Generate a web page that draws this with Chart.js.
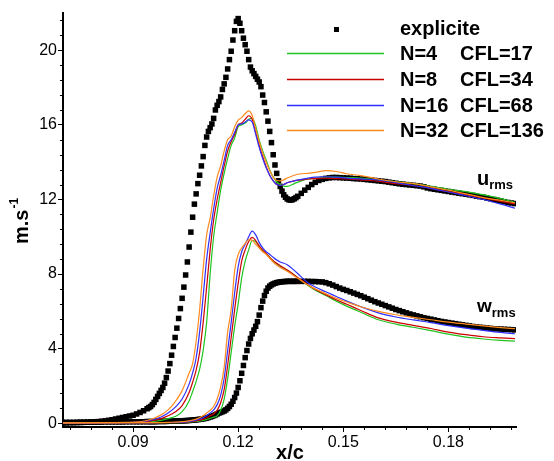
<!DOCTYPE html>
<html>
<head>
<meta charset="utf-8">
<script src="https://cdn.jsdelivr.net/npm/chart.js@4.4.1/dist/chart.umd.min.js"></script>
<style>
  html, body { margin: 0; padding: 0; background: #fff; }
  #wrap { width: 554px; height: 461px; position: relative; }
</style>
</head>
<body>
<div id="wrap"><canvas id="chart"></canvas></div>
<script>
// explicit solution, sampled on its own x grid (x/c)
const xExp = [
  0.070,0.071,0.072,0.073,0.074,0.075,0.076,0.077,0.078,0.079,
  0.080,0.081,0.082,0.083,0.084,0.085,0.086,0.087,0.088,0.089,
  0.090,0.091,0.092,0.093,0.094,
  0.0945,0.095,0.0955,0.096,0.0965,0.097,0.0975,0.098,0.0985,0.099,
  0.0995,0.1,0.1005,0.101,0.1015,0.102,0.1025,0.103,0.1035,0.104,
  0.1045,0.105,0.1055,0.106,0.1065,0.107,0.1075,0.108,0.1085,0.109,
  0.1095,0.11,0.1105,0.111,0.1115,0.112,0.1125,0.113,0.1135,0.114,
  0.1145,0.115,0.1155,0.116,0.1165,0.117,0.1175,0.118,0.1185,0.119,
  0.1195,0.12,0.1205,0.121,0.1215,0.122,0.1225,0.123,0.1235,0.124,
  0.1245,0.125,0.1255,0.126,0.1265,0.127,0.1275,0.128,0.1285,0.129,
  0.1295,0.13,0.1305,0.131,0.1315,0.132,0.1325,0.133,0.1335,0.134,
  0.1345,0.135,0.1355,0.136,0.1365,
  0.137,0.138,0.139,0.14,0.141,0.142,0.143,0.144,0.145,0.146,
  0.147,0.148,0.149,0.15,0.151,0.152,0.153,0.154,0.155,0.156,
  0.157,0.158,0.159,0.16,0.161,0.162,0.163,0.164,0.165,0.166,
  0.167,0.168,0.169,0.17,0.171,0.172,0.173,0.174,0.175,0.176,
  0.177,0.178,0.179,0.18,0.181,0.182,0.183,0.184,0.185,0.186,
  0.187,0.188,0.189,0.19,0.191,0.192,0.193,0.194,0.195,0.196,
  0.197,0.198,0.199
];
const uExp = [
  .02,.02,.03,.03,.04,.04,.05,.06,.07,.08,
  .09,.11,.13,.16,.19,.23,.27,.31,.35,.39,
  .43,.50,.58,.67,.78,
  .84,.90,1.00,1.12,1.28,1.44,1.60,1.76,1.92,2.15,
  2.45,2.80,3.20,3.65,4.12,4.60,5.10,5.62,6.15,6.70,
  7.30,7.95,8.65,9.45,10.25,11.05,11.75,12.30,12.85,13.30,
  13.80,14.30,14.90,15.35,15.65,15.85,16.05,16.35,16.80,17.05,
  17.25,17.50,17.90,18.20,18.55,19.00,19.50,19.95,20.55,21.05,
  21.55,21.70,21.45,21.05,20.65,20.30,19.95,19.50,19.10,18.90,
  18.75,18.60,18.45,18.30,18.05,17.60,17.20,16.70,16.20,15.65,
  15.05,14.40,13.85,13.40,13.00,12.70,12.45,12.25,12.12,12.03,
  11.98,11.97,11.99,12.04,12.10,
  12.17,12.33,12.50,12.65,12.80,12.92,13.02,13.08,13.13,13.16,
  13.18,13.18,13.17,13.16,13.15,13.14,13.12,13.11,13.10,13.08,
  13.06,13.04,13.02,13.00,12.98,12.96,12.93,12.90,12.87,12.84,
  12.82,12.80,12.78,12.76,12.74,12.72,12.68,12.62,12.58,12.55,
  12.52,12.49,12.46,12.43,12.40,12.37,12.34,12.31,12.28,12.25,
  12.22,12.18,12.15,12.12,12.08,12.04,12.00,11.96,11.92,11.88,
  11.84,11.81,11.78
];
const wExp = [
  .05,.05,.05,.05,.05,.06,.06,.06,.06,.06,
  .06,.06,.07,.07,.07,.07,.07,.07,.08,.08,
  .08,.08,.08,.08,.09,
  .09,.09,.09,.09,.09,.10,.10,.10,.10,.10,
  .10,.11,.11,.11,.11,.12,.12,.12,.13,.13,
  .14,.14,.15,.15,.16,.17,.18,.19,.20,.21,
  .22,.24,.26,.28,.31,.34,.37,.41,.45,.50,
  .55,.58,.62,.66,.72,.80,.90,1.02,1.18,1.38,
  1.62,1.92,2.28,2.68,3.10,3.52,3.90,4.25,4.55,4.80,
  5.00,5.20,5.45,5.80,6.20,6.55,6.85,7.08,7.25,7.35,
  7.42,7.47,7.51,7.54,7.56,7.58,7.59,7.60,7.60,7.61,
  7.61,7.61,7.61,7.61,7.61,
  7.61,7.61,7.61,7.61,7.60,7.60,7.59,7.58,7.54,7.48,
  7.41,7.33,7.25,7.18,7.12,7.05,6.98,6.91,6.84,6.76,
  6.68,6.60,6.52,6.45,6.38,6.31,6.24,6.17,6.10,6.04,
  5.98,5.92,5.86,5.81,5.76,5.71,5.66,5.62,5.58,5.54,
  5.50,5.46,5.43,5.40,5.37,5.34,5.31,5.28,5.25,5.22,
  5.19,5.17,5.15,5.13,5.11,5.09,5.07,5.06,5.05,5.04,
  5.03,5.02,5.01
];

// implicit runs, u_rms
const xU = [
  0.070,0.080,0.088,0.092,0.095,0.098,0.100,0.102,0.104,0.106,
  0.107,0.108,0.109,0.110,0.111,0.112,0.113,0.114,0.115,0.116,
  0.117,0.118,0.119,0.120,0.121,0.122,0.123,0.124,0.125,0.126,
  0.127,0.128,0.129,0.130,0.131,0.132,0.133,0.134,0.136,0.138,
  0.140,0.142,0.145,0.148,0.151,0.155,0.160,0.165,0.170,0.175,
  0.180,0.185,0.190,0.195,0.199
];
const uN4 = [
  0.02,0.02,0.03,0.05,0.08,0.16,0.25,0.36,0.62,1.20,
  1.70,2.25,2.90,3.90,5.40,8.00,10.00,11.30,12.50,13.40,
  14.20,14.90,15.30,15.90,16.00,16.10,16.30,16.35,15.95,15.20,
  14.60,14.10,13.60,13.20,12.95,12.80,12.72,12.70,12.85,13.00,
  13.10,13.15,13.20,13.20,13.18,13.15,13.05,12.95,12.85,12.70,
  12.55,12.42,12.25,12.05,11.85
];
const uN8 = [
  0.02,0.03,0.04,0.06,0.12,0.25,0.40,0.60,0.95,1.65,
  2.20,2.85,3.80,5.40,7.30,9.30,10.90,12.00,12.90,13.80,
  14.60,15.10,15.50,16.00,16.10,16.30,16.49,16.30,15.60,14.90,
  14.30,13.75,13.30,13.00,12.80,12.75,12.80,12.90,13.00,13.05,
  13.10,13.12,13.15,13.12,13.10,13.05,12.98,12.85,12.75,12.60,
  12.42,12.26,12.08,11.90,11.76
];
const uN16 = [
  0.02,0.03,0.04,0.07,0.16,0.34,0.55,0.85,1.30,2.10,
  2.70,3.50,4.90,6.80,8.80,10.20,11.50,12.60,13.30,14.10,
  14.90,15.20,15.60,16.00,16.05,16.15,16.27,16.15,15.50,14.80,
  14.20,13.70,13.30,13.00,12.80,12.75,12.80,12.90,13.00,13.08,
  13.15,13.20,13.22,13.20,13.15,13.10,13.05,12.90,12.75,12.60,
  12.40,12.20,12.00,11.75,11.53
];
const uN32 = [
  0.02,0.03,0.05,0.08,0.20,0.45,0.72,1.15,1.75,2.70,
  3.20,4.40,6.10,8.30,10.10,11.00,12.20,13.20,13.80,14.60,
  15.20,15.40,15.90,16.25,16.40,16.60,16.75,16.50,15.80,15.10,
  14.50,14.00,13.55,13.20,13.02,13.00,13.05,13.15,13.30,13.38,
  13.40,13.45,13.55,13.50,13.38,13.28,13.10,12.95,12.85,12.68,
  12.50,12.30,12.10,11.95,11.82
];

// implicit runs, w_rms
const xW = [
  0.070,0.090,0.100,0.105,0.108,0.110,0.111,0.112,0.113,0.114,
  0.115,0.116,0.117,0.118,0.119,0.120,0.121,0.122,0.123,0.124,
  0.125,0.126,0.127,0.128,0.129,0.130,0.131,0.132,0.134,0.136,
  0.138,0.140,0.142,0.145,0.148,0.151,0.155,0.160,0.165,0.170,
  0.175,0.180,0.185,0.190,0.195,0.199
];
const wN4 = [
  0.02,0.02,0.03,0.05,0.10,0.15,0.20,0.26,0.33,0.40,
  0.70,1.30,2.40,3.80,5.20,6.40,7.80,8.70,9.30,9.80,
  9.75,9.50,9.25,9.10,8.90,8.70,8.55,8.42,8.20,7.95,
  7.65,7.38,7.13,6.85,6.55,6.28,5.95,5.55,5.32,5.15,
  4.97,4.78,4.62,4.52,4.45,4.41
];
const wN8 = [
  0.02,0.02,0.035,0.06,0.13,0.22,0.30,0.40,0.50,0.70,
  1.10,1.80,3.10,4.60,6.10,7.50,8.70,9.30,9.75,9.97,
  9.80,9.50,9.30,9.10,8.90,8.72,8.58,8.45,8.22,7.95,
  7.68,7.42,7.18,6.90,6.62,6.38,6.05,5.65,5.42,5.25,
  5.08,4.89,4.75,4.64,4.58,4.54
];
const wN16 = [
  0.02,0.03,0.04,0.08,0.17,0.30,0.42,0.55,0.72,1.00,
  1.50,2.40,3.90,5.40,7.00,8.40,9.20,9.60,10.00,10.30,
  10.10,9.70,9.40,9.20,9.05,8.90,8.75,8.65,8.50,8.20,
  7.85,7.52,7.31,7.05,6.80,6.55,6.25,5.92,5.70,5.54,
  5.40,5.24,5.10,4.98,4.87,4.80
];
const wN32 = [
  0.02,0.03,0.05,0.10,0.22,0.40,0.55,0.70,0.90,1.30,
  1.95,3.00,4.90,6.10,8.20,9.05,9.40,9.65,9.85,9.82,
  9.60,9.40,9.20,9.05,8.85,8.65,8.48,8.35,8.15,7.90,
  7.65,7.40,7.20,6.95,6.70,6.50,6.25,6.00,5.82,5.68,
  5.55,5.42,5.32,5.22,5.13,5.07
];

const runLabels = ["N=4", "N=8", "N=16", "N=32"];
const cflLabels = ["CFL=17", "CFL=34", "CFL=68", "CFL=136"];
const runColors = ["#1fc41f", "#cc0000", "#2f2fff", "#ff8a1e"];
const xTicks = [0.09, 0.12, 0.15, 0.18];
const yTicks = [0, 4, 8, 12, 16, 20];

const FONT = '"Liberation Sans", Arial, Helvetica, sans-serif';
Chart.defaults.font.family = FONT;
Chart.defaults.color = "#000";

const pts = (xs, ys) => xs.map((x, i) => ({ x: x, y: ys[i] }));

const lineSet = (xs, ys, color) => ({
  data: pts(xs, ys),
  showLine: true,
  borderColor: color,
  borderWidth: 1.2,
  pointRadius: 0,
  cubicInterpolationMode: "monotone",
});
const squareSet = (xs, ys) => ({
  data: pts(xs, ys),
  showLine: false,
  pointStyle: "rect",
  pointRadius: 3.9,
  pointHoverRadius: 3.9,
  pointBorderWidth: 0,
  pointBackgroundColor: "#000",
});

// first dataset is painted last (on top)
const datasets = [
  lineSet(xU, uN32, runColors[3]), lineSet(xW, wN32, runColors[3]),
  lineSet(xU, uN16, runColors[2]), lineSet(xW, wN16, runColors[2]),
  lineSet(xU, uN8, runColors[1]), lineSet(xW, wN8, runColors[1]),
  lineSet(xU, uN4, runColors[0]), lineSet(xW, wN4, runColors[0]),
  squareSet(xExp, uExp), squareSet(xExp, wExp),
];

const overlay = {
  id: "overlay",
  afterDraw(chart) {
    const ctx = chart.ctx;
    const sx = chart.scales.x, sy = chart.scales.y;
    const area = chart.chartArea;
    ctx.save();
    ctx.strokeStyle = "#000";
    ctx.lineWidth = 1;

    // minor ticks
    ctx.beginPath();
    for (let i = -3; i <= 18; i++) {
      if (i % 5 === 0) continue;
      const px = Math.round(sx.getPixelForValue(0.09 + i * 0.006)) + 0.5;
      ctx.moveTo(px, area.bottom);
      ctx.lineTo(px, area.bottom + 3);
    }
    for (let i = 1; i <= 27; i++) {
      if (i % 5 === 0) continue;
      const py = Math.round(sy.getPixelForValue(i * 0.8)) + 0.5;
      ctx.moveTo(area.left, py);
      ctx.lineTo(area.left - 3, py);
    }
    ctx.stroke();

    // legend
    ctx.fillStyle = "#000";
    ctx.textBaseline = "alphabetic";
    ctx.textAlign = "left";
    ctx.font = "bold 20px " + FONT;
    ctx.fillRect(334, 27, 5, 5);
    ctx.fillText("explicite", 400, 35);
    const rowsY = [53.5, 79.5, 105.5, 130.5];
    for (let i = 0; i < 4; i++) {
      ctx.strokeStyle = runColors[i];
      ctx.lineWidth = 1.3;
      ctx.beginPath();
      ctx.moveTo(287, rowsY[i]);
      ctx.lineTo(384, rowsY[i]);
      ctx.stroke();
      ctx.fillText(runLabels[i], 400, rowsY[i] + 6.5);
      ctx.fillText(cflLabels[i], 460, rowsY[i] + 6.5);
    }

    // curve labels
    ctx.font = "bold 20px " + FONT;
    ctx.fillText("u", 477, 185);
    let w = ctx.measureText("u").width;
    ctx.font = "bold 13px " + FONT;
    ctx.fillText("rms", 477 + w, 189);
    ctx.font = "bold 19px " + FONT;
    ctx.fillText("w", 477, 311.5);
    w = ctx.measureText("w").width;
    ctx.font = "bold 13px " + FONT;
    ctx.fillText("rms", 477 + w, 316.5);

    // axis titles
    ctx.font = "bold 20px " + FONT;
    ctx.textAlign = "center";
    ctx.fillText("x/c", 290, 459);
    ctx.save();
    ctx.translate(28, 244);
    ctx.rotate(-Math.PI / 2);
    ctx.textAlign = "left";
    ctx.font = "bold 20px " + FONT;
    ctx.fillText("m.s", 0, 0);
    w = ctx.measureText("m.s").width;
    ctx.font = "bold 12px " + FONT;
    ctx.fillText("-1", w + 1, -10);
    ctx.restore();
    ctx.restore();
  },
};

new Chart(document.getElementById("chart"), {
  type: "scatter",
  data: { datasets: datasets },
  options: {
    responsive: true,
    maintainAspectRatio: false,
    animation: false,
    events: [],
    layout: { padding: { top: 13, right: 38, left: 0, bottom: 0 } },
    plugins: { legend: { display: false }, tooltip: { enabled: false } },
    scales: {
      x: {
        type: "linear",
        min: 0.07,
        max: 0.1993,
        afterBuildTicks: (s) => { s.ticks = xTicks.map((v) => ({ value: v })); },
        afterFit: (s) => { s.height = 34; },
        border: { display: true, color: "#000", width: 2 },
        grid: { display: true, drawOnChartArea: false, drawTicks: true, tickLength: 5, tickColor: "#000", tickWidth: 1 },
        ticks: { padding: 1, font: { size: 16 }, color: "#000", callback: (v) => v.toFixed(2) },
      },
      y: {
        type: "linear",
        min: -0.2,
        max: 22,
        afterBuildTicks: (s) => { s.ticks = yTicks.map((v) => ({ value: v })); },
        afterFit: (s) => { s.width = 63; },
        border: { display: true, color: "#000", width: 2 },
        grid: { display: true, drawOnChartArea: false, drawTicks: true, tickLength: 5, tickColor: "#000", tickWidth: 1 },
        ticks: { padding: 1, font: { size: 16 }, color: "#000", callback: (v) => String(v) },
      },
    },
  },
  plugins: [overlay],
});
</script>
</body>
</html>
